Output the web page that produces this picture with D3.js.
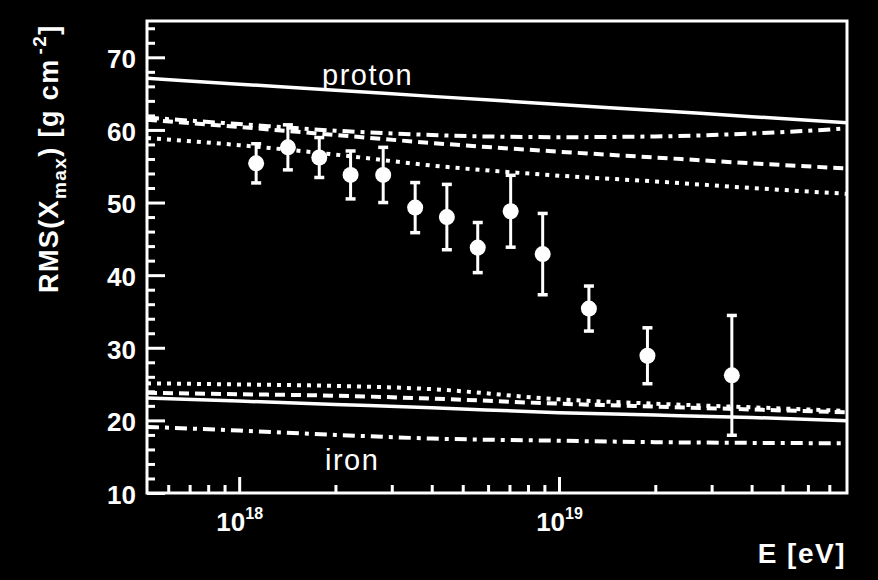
<!DOCTYPE html>
<html><head><meta charset="utf-8">
<script src="https://cdn.jsdelivr.net/npm/d3@7"></script>
<style>
html,body{margin:0;padding:0;background:#000;}
svg{display:block;}
text{font-family:"Liberation Sans",Arial,Helvetica,sans-serif;fill:#fff;}
</style></head>
<body>
<svg id="c" width="878" height="580"></svg>
<script>
// ---------- data ----------
const energyBins = [1.13e18, 1.42e18, 1.78e18, 2.23e18, 2.82e18, 3.55e18, 4.46e18, 5.57e18, 7.06e18, 8.89e18, 1.24e19, 1.89e19, 3.47e19];
const rmsValues  = [55.4, 57.6, 56.2, 53.8, 53.8, 49.3, 48.0, 43.8, 48.8, 42.9, 35.4, 28.9, 26.2];
const rmsErrors  = [2.7, 3.1, 2.75, 3.3, 3.8, 3.45, 4.5, 3.45, 4.95, 5.6, 3.1, 3.85, 8.25];

const modelEnergies = [5.15e17, 1e18, 2e18, 4e18, 1e19, 2e19, 4e19, 7.95e19];
const protonSolid   = [67.1, 66.3, 65.46, 64.62, 63.51, 62.67, 61.83, 61.0];
const protonDashDot = [61.7, 60.8, 59.9, 59.3, 59.0, 59.1, 59.5, 60.2];
const protonDashed  = [61.4, 60.4, 59.3, 58.2, 57.0, 56.2, 55.4, 54.7];
const protonDotted  = [58.9, 57.9, 56.6, 55.1, 53.7, 52.9, 52.0, 51.2];
const ironDotted    = [25.1, 24.95, 24.75, 24.3, 22.9, 22.3, 21.8, 21.3];
const ironDashed    = [23.8, 23.6, 23.4, 23.0, 22.3, 21.9, 21.5, 21.1];
const ironSolid     = [23.1, 22.66, 22.2, 21.75, 21.05, 20.73, 20.4, 19.95];
const ironDashDot   = [19.1, 18.6, 18.0, 17.5, 17.2, 17.0, 16.9, 16.85];

const xMajorTicks = [1e18, 1e19];
const xMinorTicks = [6e17, 7e17, 8e17, 9e17, 2e18, 3e18, 4e18, 5e18, 6e18, 7e18, 8e18, 9e18, 2e19, 3e19, 4e19, 5e19, 6e19, 7e19];
const yMajorTicks = [10, 20, 30, 40, 50, 60, 70];
const yMinorTicks = [12,14,16,18,22,24,26,28,32,34,36,38,42,44,46,48,52,54,56,58,62,64,66,68,72,74];
const xTickExponents = ["18", "19"];

// ---------- layout ----------
const L = 147, R = 847, T = 21, B = 493;
const svg = d3.select("#c");
svg.append("rect").attr("width", 878).attr("height", 580).attr("fill", "#000");

const x = d3.scaleLog().domain([5.15e17, 7.95e19]).range([L, R]);
const y = d3.scaleLinear().domain([10, 75]).range([B, T]);

svg.append("defs").append("clipPath").attr("id", "clip")
  .append("rect").attr("x", L).attr("y", T).attr("width", R - L).attr("height", B - T);

// ---------- model lines ----------
const models = [
  {v: protonSolid,   dash: null},
  {v: protonDashDot, dash: "12,6,4,6"},
  {v: protonDashed,  dash: "10,6"},
  {v: protonDotted,  dash: "4,6"},
  {v: ironDotted,    dash: "4,6"},
  {v: ironDashed,    dash: "10,6"},
  {v: ironSolid,     dash: null},
  {v: ironDashDot,   dash: "12,6,4,6"}
];
const line = d3.line().x(d => x(d[0])).y(d => y(d[1])).curve(d3.curveMonotoneX);
const gLines = svg.append("g").attr("clip-path", "url(#clip)");
models.forEach(m => {
  gLines.append("path")
    .attr("d", line(modelEnergies.map((e, i) => [e, m.v[i]])))
    .attr("fill", "none").attr("stroke", "#fff")
    .attr("stroke-width", m.dash ? 4 : 3.5)
    .attr("stroke-dasharray", m.dash);
});

// ---------- labels ----------
svg.append("text").attr("x", 322).attr("y", 85).attr("font-size", 29)
  .attr("letter-spacing", "1.5px").text("proton");
svg.append("text").attr("x", 325).attr("y", 470).attr("font-size", 29)
  .attr("letter-spacing", "1.5px").text("iron");

// ---------- data points ----------
const pts = energyBins.map((e, i) => ({e, v: rmsValues[i], s: rmsErrors[i]}));
const gPts = svg.append("g");
pts.forEach(p => {
  const cx = x(p.e);
  gPts.append("line").attr("x1", cx).attr("x2", cx).attr("y1", y(p.v + p.s)).attr("y2", y(p.v - p.s))
    .attr("stroke", "#fff").attr("stroke-width", 3);
  [p.v + p.s, p.v - p.s].forEach(vv => {
    gPts.append("line").attr("x1", cx - 5).attr("x2", cx + 5).attr("y1", y(vv)).attr("y2", y(vv))
      .attr("stroke", "#fff").attr("stroke-width", 3.5);
  });
  gPts.append("circle").attr("cx", cx).attr("cy", y(p.v)).attr("r", 8).attr("fill", "#fff");
});

// ---------- axes ----------
function styleAxis(g) {
  g.select(".domain").remove();
  g.selectAll(".tick line").attr("stroke", "#fff").attr("stroke-width", 3);
}
svg.append("g").attr("transform", `translate(0,${B})`)
  .call(d3.axisBottom(x).tickValues(xMinorTicks).tickSize(-8).tickFormat(""))
  .call(styleAxis);
const gxMaj = svg.append("g").attr("transform", `translate(0,${B})`)
  .call(d3.axisBottom(x).tickValues(xMajorTicks).tickSize(-16).tickPadding(20).tickFormat(""))
  .call(styleAxis);
gxMaj.selectAll(".tick text").each(function(d, i) {
  const t = d3.select(this).attr("fill", "#fff").attr("font-size", 26).attr("font-weight", "bold")
    .attr("font-family", '"Liberation Sans",Arial,Helvetica,sans-serif');
  t.append("tspan").text("10");
  t.append("tspan").attr("font-size", 16).attr("dy", -12).text(xTickExponents[i]);
});

svg.append("g").attr("transform", `translate(${L},0)`)
  .call(d3.axisLeft(y).tickValues(yMinorTicks).tickSize(-8).tickFormat(""))
  .call(styleAxis);
svg.append("g").attr("transform", `translate(${L},0)`)
  .call(d3.axisLeft(y).tickValues(yMajorTicks).tickSize(-18).tickPadding(11).tickFormat(d3.format("d")))
  .call(styleAxis)
  .call(g => g.selectAll(".tick text").attr("fill", "#fff").attr("font-size", 26).attr("font-weight", "bold")
    .attr("dy", "0.4em").attr("font-family", '"Liberation Sans",Arial,Helvetica,sans-serif'));

// frame
svg.append("rect").attr("x", L).attr("y", T).attr("width", R - L).attr("height", B - T)
  .attr("fill", "none").attr("stroke", "#fff").attr("stroke-width", 3);

// axis titles
svg.append("text").attr("x", 846).attr("y", 563).attr("text-anchor", "end")
  .attr("font-size", 28).attr("font-weight", "bold").attr("letter-spacing", "1.5px").text("E [eV]");

const yt = svg.append("text").attr("transform", "translate(58,293) rotate(-90)")
  .attr("font-size", 27).attr("font-weight", "bold").attr("letter-spacing", "1.4px");
yt.append("tspan").text("RMS(X");
yt.append("tspan").attr("font-size", 19).attr("dy", 8).text("max");
yt.append("tspan").attr("dy", -8).text(") [g cm");
yt.append("tspan").attr("font-size", 19).attr("dy", -12).attr("dx", 4).text("-2");
yt.append("tspan").attr("dy", 12).text("]");
</script>
</body></html>
